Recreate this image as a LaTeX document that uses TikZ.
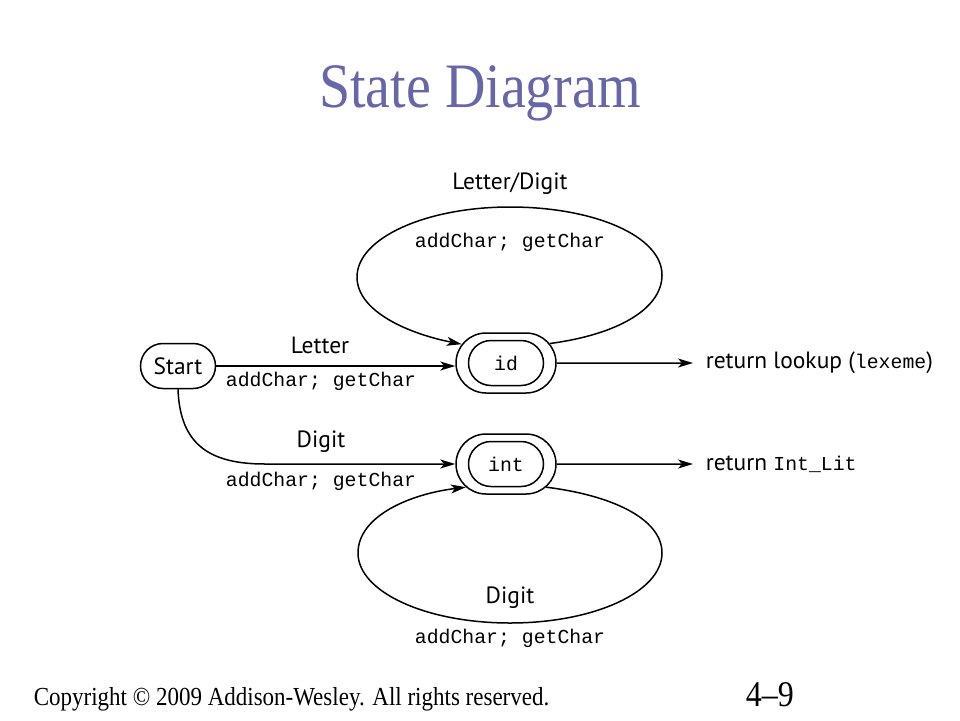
\documentclass[tikz,border=0pt]{standalone}
\usepackage{fontspec}
\setmainfont{Liberation Serif}
\setsansfont{PT Sans}
\setmonofont{Liberation Mono}
\usetikzlibrary{shapes.misc,arrows.meta}
\definecolor{titleblue}{RGB}{102,102,168}
\tikzset{
	lbl/.style={font=\sffamily\fontsize{23.5}{28}\selectfont},
	code/.style={font=\ttfamily\fontsize{19.8}{24}\selectfont},
	state/.style={draw,rounded rectangle,minimum width=75pt,minimum height=45pt,inner sep=0pt},
	ring/.style={draw,rounded rectangle,minimum width=100pt,minimum height=60pt,inner sep=0pt},
	trans/.style={-{Stealth[length=15pt,width=9pt,inset=4pt]}},
	result/.style={lbl,anchor=west,inner xsep=12pt}
}
\begin{document}
\begin{tikzpicture}[x=1pt,y=-1pt,line width=1.5pt]
	\useasboundingbox (0,0) rectangle (960,720);
	\node[text=titleblue,font=\fontsize{56}{60}\selectfont] (title) at (480,93) {\scalebox{1}[1.13]{State Diagram}};
	\node[state,lbl] (start) at (178,366) {Start};
	\node[ring] (id) at (506,363) {};
	\node[state,code] (idin) at (id) {id};
	\node[ring] (int) at (506,464) {};
	\node[state,code] (intin) at (int) {int};
	\node[result] (retid) at (693,363) {return lookup ({\fontsize{19.8}{24}\ttfamily lexeme})};
	\node[result] (retint) at (693,464) {return {\fontsize{19.8}{24}\ttfamily Int\_Lit}};
	\draw[trans] (start.east) -- (start.east -| id.west);
	\draw[trans] (start.south) .. controls (180,445) and (210,464) .. (265,464) -- (int.west);
	\draw[trans] (id.24) .. controls (615,335) and (662,310) .. (662,275) .. controls (662,236) and (594,207) .. (510,207) .. controls (426,207) and (357,238) .. (357,277) .. controls (357,312) and (410,334) .. (id.157);
	\draw[trans] (int.330) .. controls (610,495) and (662,518) .. (662,553) .. controls (662,592) and (594,623) .. (510,623) .. controls (426,623) and (358,592) .. (358,553) .. controls (358,516) and (410,494) .. (int.210);
	\draw[trans] (id) -- (retid);
	\draw[trans] (int) -- (retint);
	\node[lbl] at (510,184) {Letter/Digit};
	\node[code] at (510,242) {addChar; getChar};
	\node[lbl] at (320,345) {Letter};
	\node[code] at (321,381) {addChar; getChar};
	\node[lbl] at (321,442) {Digit};
	\node[code] at (321,481) {addChar; getChar};
	\node[lbl] at (510,598) {Digit};
	\node[code] at (510,638) {addChar; getChar};
	\node[anchor=base west,inner sep=0pt,font=\fontsize{23}{26}\selectfont] (copy) at (33,705) {\scalebox{1}[1.13]{Copyright \textcopyright{} 2009 Addison-Wesley. All rights reserved.}};
	\node[anchor=base west,inner sep=0pt,font=\fontsize{32}{36}\selectfont] (page) at (745,706) {\scalebox{1}[1.13]{4--9}};
\end{tikzpicture}
\end{document}
